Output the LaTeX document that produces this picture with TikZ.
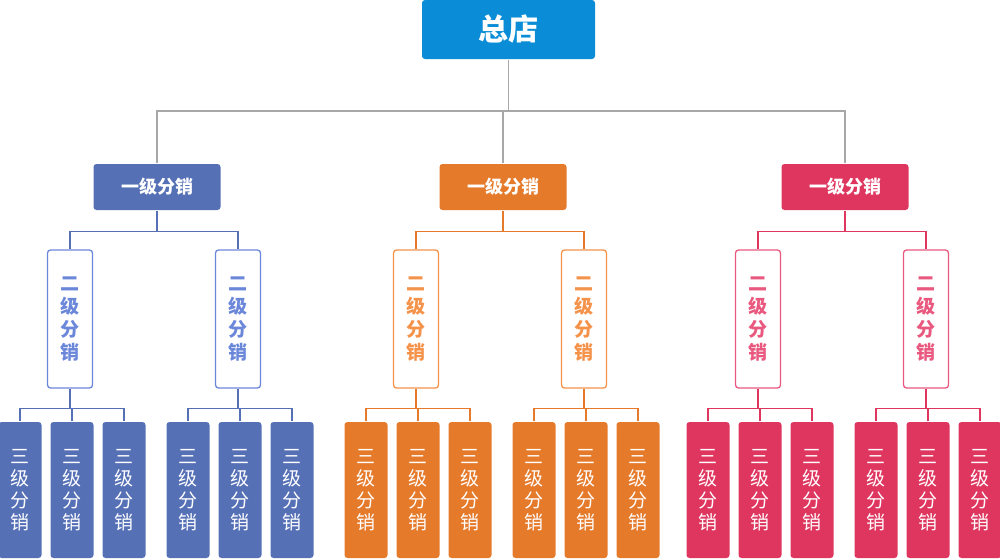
\documentclass[tikz,border=0pt]{standalone}
\usepackage{fontspec}
\newfontfamily\cjk{Noto Sans CJK SC}
\definecolor{topblue}{HTML}{0A8DD6}
\definecolor{bblue}{HTML}{5670B6}
\definecolor{lblue}{HTML}{6B87DA}
\definecolor{borange}{HTML}{E57A2B}
\definecolor{lorange}{HTML}{F5924A}
\definecolor{bred}{HTML}{DF3660}
\definecolor{lred}{HTML}{E9587E}
\definecolor{linegray}{HTML}{A8A8A8}

\begin{document}
\begin{tikzpicture}[x=1pt,y=-1pt,line width=1.3pt,
  box/.style={rectangle,rounded corners=3pt,inner sep=0pt,align=center},
  headbox/.style={box,minimum width=127pt,minimum height=46pt,text=white,
    font=\cjk\bfseries\fontsize{18}{20}\selectfont},
  midbox/.style={box,draw,fill=white,minimum width=45pt,minimum height=138pt,
    font=\cjk\bfseries\fontsize{19}{23}\selectfont},
  leafbox/.style={box,minimum width=43pt,minimum height=136pt,text=white,
    font=\cjk\fontsize{19}{22}\selectfont}]
  \useasboundingbox (0,0) rectangle (1000,558);

  \node[box,fill=topblue,text=white,minimum width=173pt,minimum height=59pt,
        font=\cjk\bfseries\fontsize{30}{32}\selectfont] (top) at (508.5,29.5) {总店};

  \foreach \c/\dk/\lt [count=\i] in {157/bblue/lblue,503/borange/lorange,845/bred/lred}{
    \node[headbox,fill=\dk] (l\i) at (\c,187) {一级分销};
    \draw[linegray] (l\i.north) -- (l\i.north |- 0,111) -| (top.south);
    \foreach \dx [count=\j] in {-87,81}{
      \node[midbox,draw=\lt,text=\lt] (m\i\j) at (\c+\dx,319) {二\\级\\分\\销};
      \draw[\dk] (m\i\j.north) -- ++(0,-18) -| (l\i.south);
      \foreach \ex [count=\k] in {-50,2,54}{
        \node[leafbox,fill=\dk] (n\i\j\k) at (\c+\dx+\ex,490) {三\\级\\分\\销};
        \draw[\dk] (n\i\j\k.north) -- ++(0,-13) -| (m\i\j.south);
      }
    }
  }
\end{tikzpicture}
\end{document}
